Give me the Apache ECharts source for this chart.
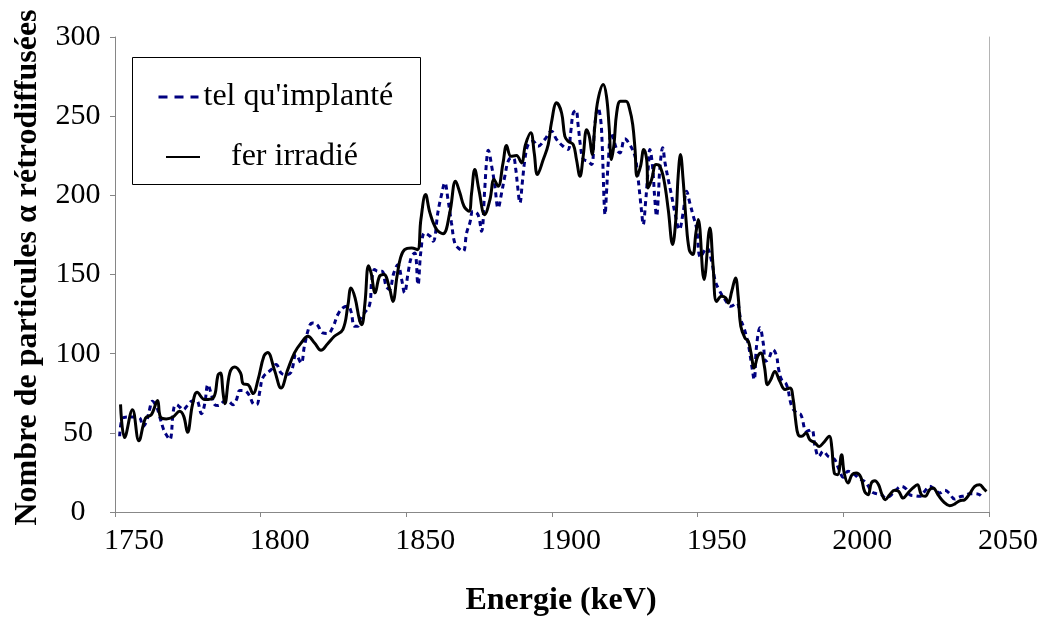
<!DOCTYPE html>
<html>
<head>
<meta charset="utf-8">
<script src="https://cdn.jsdelivr.net/npm/echarts@6/dist/echarts.min.js"></script>
<style>
  html, body { margin: 0; padding: 0; background: #fff; }
  #chart { width: 1042px; height: 617px; }
</style>
</head>
<body>
<div id="chart"></div>
<script>
// energies (keV) and counts
const energyFer = [
  1751.9, 1753.3, 1756.0, 1758.2, 1760.5, 1762.5, 1764.6, 1765.6, 1767.6, 1769.9,
  1772.2, 1773.6, 1774.9, 1776.6, 1778.2, 1780.8, 1783.7, 1785.4, 1786.2, 1787.1,
  1787.7, 1789.4, 1791.1, 1793.1, 1794.0, 1795.7, 1797.4, 1799.1, 1801.1, 1802.4,
  1804.7, 1807.0, 1809.3, 1811.6, 1813.9, 1816.2, 1818.5, 1820.7, 1823.0, 1825.3,
  1828.2, 1829.9, 1831.0, 1832.4, 1833.9, 1834.7, 1835.8, 1837.0, 1837.9, 1839.3,
  1840.8, 1842.3, 1844.2, 1845.4, 1846.8, 1848.0, 1849.4, 1851.8, 1853.8, 1855.0,
  1856.6, 1858.1, 1860.4, 1862.6, 1864.9, 1866.9, 1868.4, 1869.8, 1871.5, 1872.4,
  1873.5, 1874.9, 1876.9, 1878.7, 1880.1, 1881.5, 1883.2, 1884.4, 1885.9, 1887.8,
  1889.5, 1890.9, 1892.7, 1893.9, 1895.0, 1897.0, 1898.7, 1899.8, 1901.6, 1903.3,
  1904.4, 1905.5, 1907.3, 1908.4, 1909.6, 1910.7, 1911.9, 1912.8, 1913.8, 1914.7,
  1915.8, 1917.6, 1918.7, 1919.6, 1920.4, 1921.3, 1922.2, 1923.5, 1925.4, 1926.7,
  1927.7, 1928.5, 1929.2, 1930.4, 1931.5, 1932.5, 1933.0, 1934.2, 1935.7, 1937.0,
  1938.4, 1939.9, 1941.4, 1942.5, 1943.3, 1944.1, 1945.0, 1946.0, 1947.1, 1948.3,
  1949.4, 1950.2, 1952.2, 1954.2, 1955.3, 1956.5, 1958.2, 1959.6, 1960.5, 1961.7,
  1963.0, 1963.9, 1964.8, 1966.2, 1967.4, 1968.3, 1969.4, 1970.6, 1971.7, 1972.9,
  1974.0, 1975.1, 1976.5, 1978.2, 1980.0, 1981.7, 1982.8, 1983.6, 1984.5, 1985.7,
  1987.2, 1988.5, 1990.3, 1991.7, 1993.1, 1995.2, 1996.0, 1996.9, 1998.0, 1999.4,
  2000.3, 2001.6, 2003.0, 2004.4, 2006.0, 2007.3, 2008.5, 2009.6, 2010.8, 2012.1,
  2013.3, 2014.4, 2015.9, 2017.6, 2019.0, 2020.5, 2022.2, 2023.9, 2025.4, 2026.8,
  2028.1, 2029.6, 2030.8, 2032.5, 2034.6, 2036.5, 2038.2, 2039.9, 2041.7, 2043.4,
  2045.1, 2046.8, 2048.3, 2049.1
];
const countsFer = [
  68, 47, 64.6, 45, 59.4, 61.5, 70.5, 60, 58.8, 60,
  63.6, 60.4, 50.3, 67.8, 75.6, 71, 72, 86.7, 87.8, 75.2,
  68.4, 87.8, 91.6, 87.8, 81, 80.4, 74.8, 83.6, 98.3, 100.8,
  89.9, 78.3, 89.9, 100.5, 106.8, 111, 106.8, 102.1, 106.3, 111,
  115.2, 129.9, 141.5, 135.2, 121.5, 118.3, 132, 155.6, 151, 138.4,
  148.9, 150, 141.5, 133, 148.9, 160.5, 165.7, 166.8, 165.7, 184.7,
  200.5, 188.9, 178.4, 175.8, 188.9, 208.9, 201.5, 193.1, 190, 201.5,
  216.3, 203.6, 187.8, 197.3, 210, 205.7, 220.5, 231.4, 224.7, 225.1,
  220.5, 232, 239.5, 226.8, 213.1, 222.6, 232, 245.8, 258.4, 252,
  237.3, 234.2, 232, 222.6, 212, 224.7, 241.5, 237.3, 225.8, 243.6,
  260.5, 270, 262.6, 243.6, 222.6, 232.7, 252, 259.4, 259.4, 254,
  244.7, 229, 212, 218.4, 229, 222.6, 204.7, 210, 219.4, 218.4,
  210, 191, 168.9, 184.7, 212, 225.8, 210, 184.7, 165.7, 162.6,
  176.3, 184.7, 146.8, 179.4, 155.2, 133, 136.2, 135.2, 132, 139.4,
  147.8, 136.2, 117.3, 110, 107.8, 100.5, 91, 98.3, 100.5, 92,
  80.4, 83.6, 88.8, 82.5, 77.3, 78.3, 71, 58.3, 48.8, 47.8,
  49.9, 45.7, 43.6, 41.4, 43.6, 47.8, 41.4, 24.6, 23.6, 36.2,
  24.6, 18.3, 23.6, 24.6, 22.1, 13, 10.9, 18.3, 19.8, 17.2,
  10.9, 7.8, 10.9, 13.7, 13, 8.8, 12, 15.2, 17.2, 10.9,
  9.9, 14.1, 15.2, 10.9, 6.1, 4, 5, 7.1, 7.8, 11.6,
  16.2, 17.2, 14.5, 13
];
const energyImpl = [
  1751.6, 1752.7, 1754.5, 1756.8, 1758.5, 1759.6, 1760.8, 1761.9, 1762.8, 1764.2,
  1765.3, 1766.7, 1767.6, 1768.8, 1770.2, 1771.1, 1772.2, 1773.3, 1775.1, 1776.2,
  1777.9, 1779.7, 1780.8, 1781.9, 1783.1, 1784.2, 1785.4, 1787.7, 1788.8, 1790.5,
  1791.7, 1792.8, 1794.0, 1795.1, 1796.3, 1797.4, 1798.6, 1799.7, 1800.8, 1803.6,
  1805.3, 1807.0, 1808.7, 1810.4, 1812.2, 1813.9, 1815.0, 1816.8, 1817.9, 1819.4,
  1821.3, 1823.0, 1824.8, 1826.5, 1828.2, 1829.9, 1831.0, 1832.2, 1833.3, 1834.5,
  1835.6, 1837.4, 1838.1, 1839.1, 1840.2, 1841.6, 1843.1, 1844.2, 1845.7, 1847.1,
  1848.4, 1849.4, 1850.6, 1851.8, 1852.9, 1854.0, 1855.0, 1856.3, 1858.1, 1859.2,
  1860.9, 1862.1, 1863.2, 1864.3, 1865.5, 1866.6, 1867.8, 1869.5, 1870.7, 1871.8,
  1872.9, 1874.6, 1875.8, 1876.9, 1877.5, 1878.1, 1879.4, 1880.4, 1881.5, 1882.7,
  1883.8, 1885.2, 1886.7, 1887.5, 1888.2, 1889.0, 1889.8, 1890.7, 1891.8, 1893.5,
  1895.2, 1897.5, 1899.8, 1901.6, 1903.8, 1905.5, 1906.4, 1907.3, 1908.2, 1909.0,
  1909.8, 1910.7, 1912.4, 1913.6, 1914.7, 1915.8, 1916.7, 1917.2, 1917.6, 1917.9,
  1918.2, 1918.7, 1919.3, 1920.4, 1922.2, 1923.3, 1925.0, 1926.7, 1928.5, 1929.2,
  1930.2, 1930.8, 1931.3, 1932.1, 1933.0, 1933.6, 1934.5, 1935.3, 1935.9, 1936.5,
  1937.0, 1938.0, 1938.8, 1939.9, 1941.1, 1942.2, 1943.7, 1945.0, 1946.2, 1947.3,
  1948.5, 1949.6, 1951.0, 1953.1, 1954.8, 1955.9, 1957.0, 1959.4, 1961.4, 1963.4,
  1964.8, 1966.0, 1967.4, 1968.5, 1969.4, 1970.2, 1971.4, 1972.5, 1973.3, 1974.2,
  1975.9, 1977.1, 1977.7, 1978.8, 1980.5, 1982.3, 1984.0, 1985.4, 1987.4, 1989.1,
  1990.3, 1991.6, 1993.1, 1994.8, 1996.0, 1997.1, 1998.5, 2000.0, 2001.6, 2003.9,
  2005.6, 2007.3, 2008.5, 2009.6, 2011.3, 2013.0, 2014.7, 2016.5, 2018.2, 2019.9,
  2021.6, 2022.8, 2024.5, 2026.2, 2027.9, 2029.6, 2031.4, 2033.1, 2034.8, 2036.5,
  2038.2, 2039.9, 2041.7, 2043.4, 2045.1, 2046.8, 2047.9
];
const countsImpl = [
  47.8, 59.4, 60, 60, 59.4, 54, 57.2, 65, 69.9, 66.7,
  60.4, 52, 48.8, 45.7, 65.7, 67.8, 66.3, 64.6, 67.8, 69.9,
  70.5, 62.1, 68.4, 80.4, 74.1, 67.8, 67.2, 69.9, 69.9, 67.8,
  71, 76.8, 76.8, 76, 73, 68.4, 67.8, 76, 85, 89.9,
  93.1, 87.8, 86.7, 88.2, 99.4, 94.1, 104.6, 117.7, 119.4, 118.3,
  113.1, 112.7, 116.9, 124.7, 128.9, 129.9, 126.7, 117.3, 117.3, 123.6,
  125.7, 131, 145.7, 153.1, 152, 152, 142.5, 140.5, 151, 156.2,
  146.8, 138.4, 151, 161.5, 163.6, 143.6, 164.6, 176.3, 174.2, 171,
  190, 200.5, 207.9, 197.3, 182.6, 170, 166.8, 164.6, 176.3, 182.6,
  190, 187.8, 177.3, 203.6, 220.5, 228.5, 217.3, 205.7, 192, 201.5,
  212, 222.6, 223.6, 217.3, 205.7, 195.2, 207.9, 222.6, 232, 234.2,
  231, 235.2, 240.5, 235.2, 231, 229, 239.5, 252, 253.7, 243.6,
  231, 223, 221.5, 219.4, 244.7, 255.3, 247.9, 233.2, 212, 195.2,
  187.8, 201.5, 220.5, 239.5, 229, 226.8, 235.7, 232, 224.7, 216.3,
  199.4, 188.9, 181.5, 195.2, 216.3, 229, 218.4, 197.3, 186.9, 199.4,
  216.3, 230, 220.5, 210, 199.4, 188.9, 178.4, 188.9, 202.6, 195.2,
  186.9, 179.4, 161, 166.8, 158.3, 146.8, 141.5, 134.1, 129.9, 132,
  121.5, 115.6, 105.7, 93.1, 83.6, 104.6, 116.3, 106.8, 95.2, 96.2,
  102.5, 98.3, 91, 83.6, 80.4, 66.7, 62.5, 61.5, 50.9, 52,
  41.4, 35.1, 38.3, 35.1, 34.1, 33, 27, 22, 25.7, 23.6,
  20.8, 19.3, 16.6, 13, 11.6, 10.9, 8.8, 10.9, 14.1, 16.2,
  14.5, 10.9, 10.3, 9.9, 13, 16.2, 14.1, 12, 13.7, 11.6,
  8.2, 9.5, 10.3, 11.6, 11.6, 10.9, 8.8
];
const seriesNames = ["tel qu'implanté", "fer irradié"];

const serif = "'Liberation Serif', 'Times New Roman', serif";

const chart = echarts.init(document.getElementById("chart"), null, { renderer: "canvas" });

const option = {
  animation: false,
  backgroundColor: "#fff",
  grid: { left: 115, right: 53, top: 37, bottom: 105, outerBoundsMode: "none" },
  legend: [
    {
      data: [seriesNames[0]],
      left: 157, top: 81, padding: 0,
      itemWidth: 40, itemHeight: 14,
      itemStyle: { opacity: 0 },
      lineStyle: { type: [9, 7], width: 3 },
      textStyle: { fontFamily: serif, fontSize: 32, color: "#000" }
    },
    {
      data: [seriesNames[1]],
      left: 165, top: 141, padding: 0,
      itemWidth: 34, itemHeight: 14,
      itemStyle: { opacity: 0 },
      textStyle: { fontFamily: serif, fontSize: 32, color: "#000", padding: [0, 0, 0, 26] }
    }
  ],
  graphic: [
    {
      type: "rect", z: 100,
      shape: { x: 132.5, y: 57.5, width: 288, height: 127 },
      style: { fill: "none", stroke: "#000", lineWidth: 1 }
    }
  ],
  xAxis: [
    {
      type: "value", min: 1750, max: 2050, interval: 50,
      name: "Energie (keV)", nameLocation: "middle", nameGap: 73,
      nameTextStyle: { fontFamily: serif, fontSize: 32, fontWeight: "bold", color: "#000", padding: [0, 0, 0, 18] },
      axisLine: { lineStyle: { color: "#868686", width: 1 } },
      axisTick: { show: true, inside: false, length: 5, lineStyle: { color: "#868686" } },
      axisLabel: {
        fontFamily: serif, fontSize: 30, color: "#000", margin: 14, padding: [0, 0, 0, 38],
        formatter: (v) => String(v)
      },
      splitLine: { show: false }
    },
    {
      type: "value", position: "top", min: 1750, max: 2050,
      axisLine: { show: true, lineStyle: { color: "#888", width: 1 } },
      axisTick: { show: false }, axisLabel: { show: false }, splitLine: { show: false }
    }
  ],
  yAxis: [
    {
      type: "value", min: 0, max: 300, interval: 50,
      name: "Nombre de particules α rétrodiffusées", nameLocation: "middle", nameGap: 71,
      nameTextStyle: { fontFamily: serif, fontSize: 32, fontWeight: "bold", color: "#000", padding: [0, 0, 0, 14] },
      axisLine: { show: true, lineStyle: { color: "#868686", width: 1 } },
      axisTick: { show: true, inside: false, length: 5, lineStyle: { color: "#868686" } },
      axisLabel: { fontFamily: serif, fontSize: 30, color: "#000", margin: 37, align: "center" },
      splitLine: { show: false }
    },
    {
      type: "value", position: "right", min: 0, max: 300,
      axisLine: { show: true, lineStyle: { color: "#b4b4b4", width: 1 } },
      axisTick: { show: false }, axisLabel: { show: false }, splitLine: { show: false }
    }
  ],
  series: [
    {
      name: seriesNames[0], type: "line", smooth: 0.4, symbol: "none",
      data: energyImpl.map((e, i) => [e, countsImpl[i]]),
      lineStyle: { color: "#000080", width: 3, type: [5, 4] },
      itemStyle: { color: "#000080" }
    },
    {
      name: seriesNames[1], type: "line", smooth: 0.4, symbol: "none",
      data: energyFer.map((e, i) => [e, countsFer[i]]),
      lineStyle: { color: "#000", width: 3 },
      itemStyle: { color: "#000" }
    }
  ]
};
chart.setOption(option);
</script>
</body>
</html>
